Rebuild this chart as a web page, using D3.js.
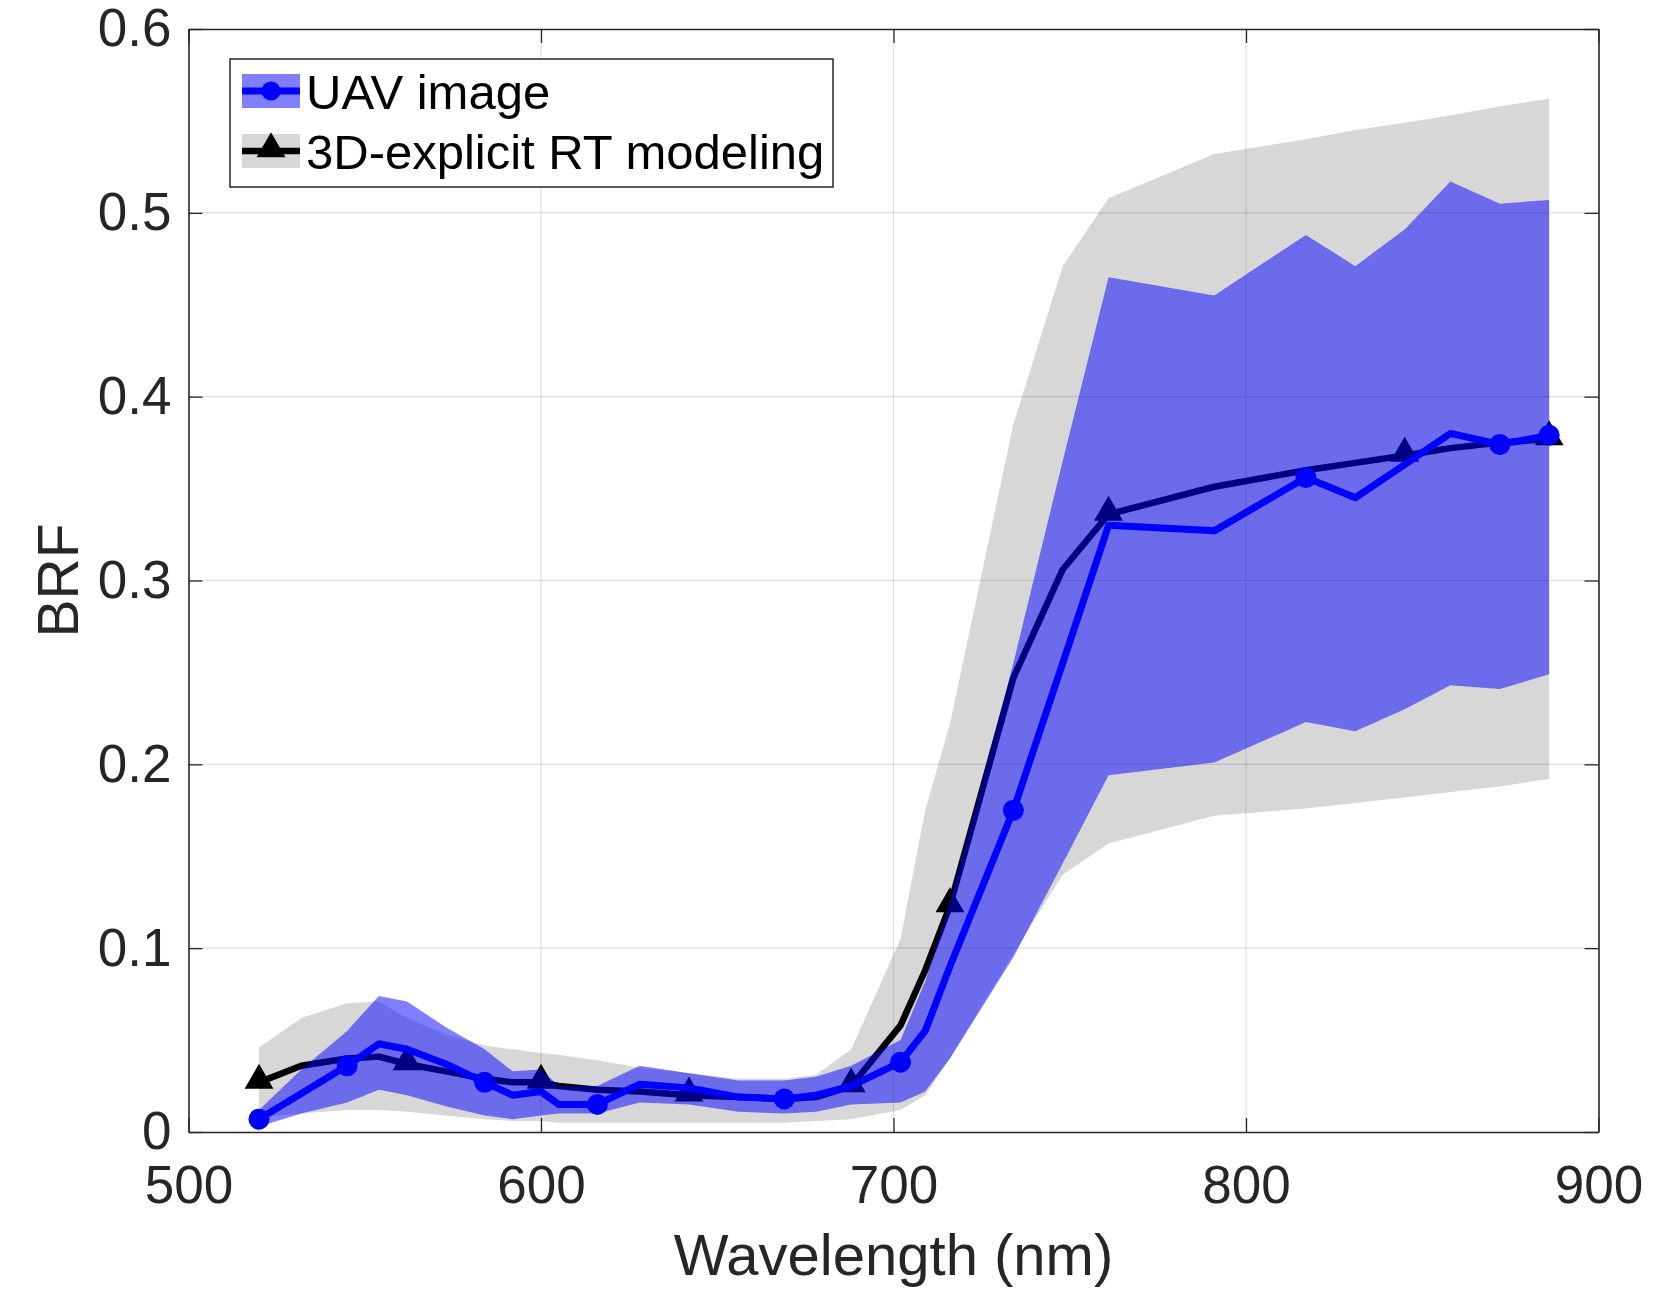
<!DOCTYPE html>
<html>
<head>
<meta charset="utf-8">
<script src="https://cdn.jsdelivr.net/npm/d3@7"></script>
<style>
  body { margin: 0; background: #fff; }
  svg { display: block; font-family: "Liberation Sans", Arial, Helvetica, sans-serif; }
</style>
</head>
<body>
<script>
// Band centres (nm)
const wavelengths = [520, 532, 545, 554, 562, 573, 584, 592, 600, 605, 616, 628, 642, 656, 669, 678, 688, 702, 709, 716, 734, 748, 761, 791, 817, 831, 845, 858, 872, 886];

// UAV image: mean and spread
const uavMean = [0.007, 0.021, 0.036, 0.048, 0.045, 0.037, 0.027, 0.020, 0.022, 0.015, 0.015, 0.026, 0.024, 0.019, 0.018, 0.020, 0.025, 0.038, 0.055, 0.090, 0.175, 0.255, 0.330, 0.327, 0.356, 0.345, 0.363, 0.380, 0.374, 0.379];
const uavLow = [0.003, 0.010, 0.016, 0.023, 0.020, 0.014, 0.009, 0.007, 0.009, 0.010, 0.010, 0.016, 0.015, 0.011, 0.010, 0.011, 0.015, 0.016, 0.022, 0.040, 0.095, 0.146, 0.194, 0.201, 0.223, 0.218, 0.230, 0.243, 0.241, 0.249];
const uavHigh = [0.012, 0.034, 0.055, 0.074, 0.071, 0.057, 0.045, 0.033, 0.034, 0.025, 0.025, 0.036, 0.032, 0.028, 0.028, 0.030, 0.036, 0.050, 0.082, 0.125, 0.255, 0.365, 0.465, 0.455, 0.488, 0.471, 0.491, 0.517, 0.505, 0.507];

// 3D-explicit RT modeling: mean and spread
const rtMean = [0.027, 0.036, 0.040, 0.041, 0.037, 0.033, 0.029, 0.027, 0.027, 0.025, 0.023, 0.022, 0.020, 0.019, 0.018, 0.019, 0.025, 0.058, 0.088, 0.123, 0.247, 0.306, 0.336, 0.351, 0.360, 0.364, 0.368, 0.372, 0.375, 0.377];
const rtLow = [0.008, 0.010, 0.012, 0.012, 0.011, 0.009, 0.007, 0.006, 0.006, 0.005, 0.005, 0.005, 0.005, 0.005, 0.005, 0.006, 0.007, 0.012, 0.020, 0.040, 0.097, 0.140, 0.157, 0.172, 0.176, 0.179, 0.182, 0.185, 0.188, 0.192];
const rtHigh = [0.046, 0.062, 0.070, 0.071, 0.062, 0.053, 0.047, 0.045, 0.043, 0.042, 0.039, 0.035, 0.032, 0.029, 0.029, 0.031, 0.045, 0.105, 0.175, 0.222, 0.385, 0.471, 0.508, 0.532, 0.540, 0.545, 0.549, 0.553, 0.558, 0.562];

// which bands carry a marker
const uavMarkerNm = [520, 545, 584, 616, 669, 702, 734, 817, 872, 886];
const rtMarkerNm = [520, 562, 600, 642, 688, 716, 761, 845, 886];

const xTicks = [500, 600, 700, 800, 900];
const yTicks = [0, 0.1, 0.2, 0.3, 0.4, 0.5, 0.6];
const legendLabels = ["UAV image", "3D-explicit RT modeling"];

// Setup reference values
const w = 1680;
const h = 1291;
const plot = { left: 188.5, right: 1598.5, top: 29, bottom: 1132 };
const axisColor = "#262626";
const uavBlue = "#0000ff";
const bandGrey = "#d7d7d7";

const x = d3.scaleLinear().domain([500, 900]).range([plot.left, plot.right]);
const y = d3.scaleLinear().domain([0, 0.6]).range([plot.bottom, plot.top]);

const svg = d3.select("body").append("svg")
  .attr("width", w)
  .attr("height", h);

const rows = wavelengths.map((nm, i) => ({
  nm,
  uavMean: uavMean[i], uavLow: uavLow[i], uavHigh: uavHigh[i],
  rtMean: rtMean[i], rtLow: rtLow[i], rtHigh: rtHigh[i]
}));

const band = (lo, hi) => d3.area()
  .x(d => x(d.nm))
  .y0(d => y(d[lo]))
  .y1(d => y(d[hi]));
const line = key => d3.line()
  .x(d => x(d.nm))
  .y(d => y(d[key]));

// grey RT spread
svg.append("path")
  .datum(rows)
  .attr("d", band("rtLow", "rtHigh"))
  .attr("fill", bandGrey);

// RT mean line + triangles (drawn under the translucent blue band)
svg.append("path")
  .datum(rows)
  .attr("d", line("rtMean"))
  .attr("fill", "none")
  .attr("stroke", "#000")
  .attr("stroke-width", 6.5)
  .attr("stroke-linejoin", "round");

const tri = d3.symbol().type(d3.symbolTriangle).size(360);
svg.selectAll(".rt-marker")
  .data(rows.filter(d => rtMarkerNm.includes(d.nm)))
  .enter()
  .append("path")
  .attr("class", "rt-marker")
  .attr("d", tri)
  .attr("transform", d => `translate(${x(d.nm)},${y(d.rtMean) - 2})`)
  .attr("fill", "#000");

// blue UAV spread, half transparent
svg.append("path")
  .datum(rows)
  .attr("d", band("uavLow", "uavHigh"))
  .attr("fill", uavBlue)
  .attr("fill-opacity", 0.5);

// UAV mean line + circles
svg.append("path")
  .datum(rows)
  .attr("d", line("uavMean"))
  .attr("fill", "none")
  .attr("stroke", uavBlue)
  .attr("stroke-width", 7)
  .attr("stroke-linejoin", "round");

svg.selectAll(".uav-marker")
  .data(rows.filter(d => uavMarkerNm.includes(d.nm)))
  .enter()
  .append("circle")
  .attr("class", "uav-marker")
  .attr("cx", d => x(d.nm))
  .attr("cy", d => y(d.uavMean))
  .attr("r", 10.5)
  .attr("fill", uavBlue);

// grid on top, faint
const grid = svg.append("g").attr("class", "grid");
grid.selectAll(".gx")
  .data(xTicks.slice(1, -1))
  .enter()
  .append("line")
  .attr("x1", d => x(d)).attr("x2", d => x(d))
  .attr("y1", plot.top).attr("y2", plot.bottom)
  .attr("stroke", axisColor).attr("stroke-opacity", 0.15).attr("stroke-width", 1.2);
grid.selectAll(".gy")
  .data(yTicks.slice(1, -1))
  .enter()
  .append("line")
  .attr("x1", plot.left).attr("x2", plot.right)
  .attr("y1", d => y(d)).attr("y2", d => y(d))
  .attr("stroke", axisColor).attr("stroke-opacity", 0.15).attr("stroke-width", 1.2);

// axes: ticks point inward on all four sides
const tickLen = 14;
const styleAxis = g => {
  g.selectAll(".domain").attr("stroke", axisColor).attr("stroke-width", 1.6);
  g.selectAll(".tick line").attr("stroke", axisColor).attr("stroke-width", 1.3);
  g.selectAll(".tick text").attr("fill", axisColor).style("font-size", "53px");
};

svg.append("g")
  .attr("transform", `translate(0,${plot.bottom})`)
  .call(d3.axisBottom(x).tickValues(xTicks).tickSizeInner(-tickLen).tickSizeOuter(0).tickPadding(33).tickFormat(d3.format("d")))
  .call(styleAxis);
svg.append("g")
  .attr("transform", `translate(0,${plot.top})`)
  .call(d3.axisTop(x).tickValues(xTicks).tickSizeInner(-tickLen).tickSizeOuter(0).tickFormat(""))
  .call(styleAxis);
svg.append("g")
  .attr("transform", `translate(${plot.left},0)`)
  .call(d3.axisLeft(y).tickValues(yTicks).tickSizeInner(-tickLen).tickSizeOuter(0).tickPadding(17).tickFormat(d => d === 0 ? "0" : d3.format(".1f")(d)))
  .call(styleAxis);
svg.append("g")
  .attr("transform", `translate(${plot.right},0)`)
  .call(d3.axisRight(y).tickValues(yTicks).tickSizeInner(-tickLen).tickSizeOuter(0).tickFormat(""))
  .call(styleAxis);

// axis titles
svg.append("text")
  .attr("x", (plot.left + plot.right) / 2)
  .attr("y", 1275)
  .attr("text-anchor", "middle")
  .attr("fill", axisColor)
  .style("font-size", "58px")
  .text("Wavelength (nm)");

svg.append("text")
  .attr("transform", `translate(78,${(plot.top + plot.bottom) / 2}) rotate(-90)`)
  .attr("text-anchor", "middle")
  .attr("fill", axisColor)
  .style("font-size", "57px")
  .text("BRF");

// Setup the legend
const legend = svg.append("g").attr("id", "legend");
legend.append("rect")
  .attr("x", 230).attr("y", 59)
  .attr("width", 603).attr("height", 128)
  .attr("fill", "#fff")
  .attr("stroke", axisColor)
  .attr("stroke-width", 1.5);

const rowY = [91, 151];
legendLabels.forEach((label, i) => {
  const g = legend.append("g").attr("transform", `translate(0,${rowY[i]})`);
  g.append("rect")
    .attr("x", 242).attr("y", -17)
    .attr("width", 58).attr("height", 34)
    .attr("fill", i === 0 ? uavBlue : bandGrey)
    .attr("fill-opacity", i === 0 ? 0.5 : 1);
  g.append("line")
    .attr("x1", 242).attr("x2", 300)
    .attr("y1", 0).attr("y2", 0)
    .attr("stroke", i === 0 ? uavBlue : "#000")
    .attr("stroke-width", i === 0 ? 7 : 6.5);
  if (i === 0) {
    g.append("circle").attr("cx", 271).attr("cy", 0).attr("r", 9.5).attr("fill", uavBlue);
  } else {
    g.append("path").attr("d", tri).attr("transform", "translate(271,-2)").attr("fill", "#000");
  }
  g.append("text")
    .attr("x", 306).attr("y", 0)
    .attr("dy", "0.36em")
    .attr("fill", "#000")
    .style("font-size", "49px")
    .text(label);
});
</script>
</body>
</html>
